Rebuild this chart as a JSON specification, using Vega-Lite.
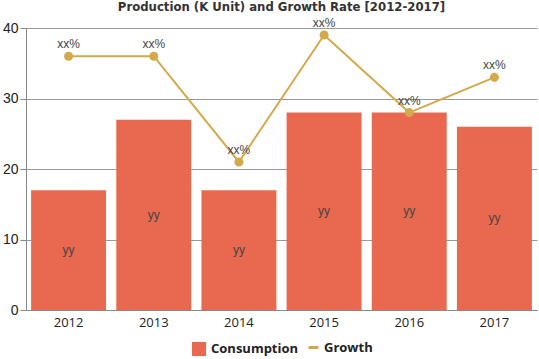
{
  "$schema": "https://vega.github.io/schema/vega-lite/v6.json",
  "width": 539,
  "height": 359,
  "autosize": {"type": "fit", "contains": "padding"},
  "padding": {"left": 2, "top": 2, "right": 2, "bottom": 2},
  "title": {"text": "Production (K Unit) and Growth Rate [2012-2017]", "font": "DejaVu Sans Condensed", "fontSize": 13, "fontWeight": "bold", "color": "#333333", "anchor": "middle", "offset": 3},
  "data": {"values": [
    {"year": "2012", "consumption": 17, "growth": 36},
    {"year": "2013", "consumption": 27, "growth": 36},
    {"year": "2014", "consumption": 17, "growth": 21},
    {"year": "2015", "consumption": 28, "growth": 39},
    {"year": "2016", "consumption": 28, "growth": 28},
    {"year": "2017", "consumption": 26, "growth": 33}
  ]},
  "encoding": {
    "x": {"field": "year", "type": "nominal", "scale": {"paddingInner": 0.12, "paddingOuter": 0.06},
      "axis": {"title": null, "labelAngle": 0, "labelFontSize": 13, "labelColor": "#222", "labelFont": "Open Sans", "domainColor": "#888", "tickColor": "#888", "ticks": false, "labelPadding": 6}}
  },
  "layer": [
    {
      "mark": {"type": "bar", "color": "#e8694f"},
      "encoding": {
        "y": {"field": "consumption", "type": "quantitative", "scale": {"domain": [0, 40]},
          "axis": {"title": null, "values": [0,10,20,30,40], "labelFontSize": 14, "labelColor": "#222", "labelFont": "Liberation Sans", "gridColor": "#999", "domainColor": "#888", "tickColor": "#888", "tickSize": 6, "labelOverlap": false}},
        "fill": {"datum": "Consumption", "type": "nominal", "scale": {"range": ["#e8694f"]}, "legend": {"title": null, "orient": "bottom", "offset": 12, "symbolType": "square", "symbolSize": 200, "labelFontSize": 13, "labelFont": "Open Sans", "labelFontWeight": "bold", "labelColor": "#222"}}
      }
    },
    {
      "mark": {"type": "text", "fontSize": 12, "color": "#444", "font": "Liberation Sans"},
      "transform": [{"calculate": "datum.consumption/2", "as": "mid"}],
      "encoding": {"y": {"field": "mid", "type": "quantitative"}, "text": {"value": "yy"}}
    },
    {
      "mark": {"type": "line", "color": "#d4a94c", "strokeWidth": 2, "point": {"filled": true, "size": 50, "color": "#d4a94c"}},
      "encoding": {
        "y": {"field": "growth", "type": "quantitative"},
        "stroke": {"datum": "Growth", "type": "nominal", "scale": {"range": ["#d4a94c"]}, "legend": {"title": null, "orient": "bottom", "offset": 12, "symbolType": "stroke", "symbolStrokeWidth": 3, "labelFontSize": 13, "labelFont": "Open Sans", "labelFontWeight": "bold", "labelColor": "#222"}}
      }
    },
    {
      "mark": {"type": "text", "fontSize": 12, "color": "#444", "dy": -12, "font": "Liberation Sans"},
      "encoding": {"y": {"field": "growth", "type": "quantitative"}, "text": {"value": "xx%"}}
    }
  ],
  "config": {"view": {"stroke": null}, "legend": {"layout": {"bottom": {"direction": "horizontal", "anchor": "middle"}}}}
}
